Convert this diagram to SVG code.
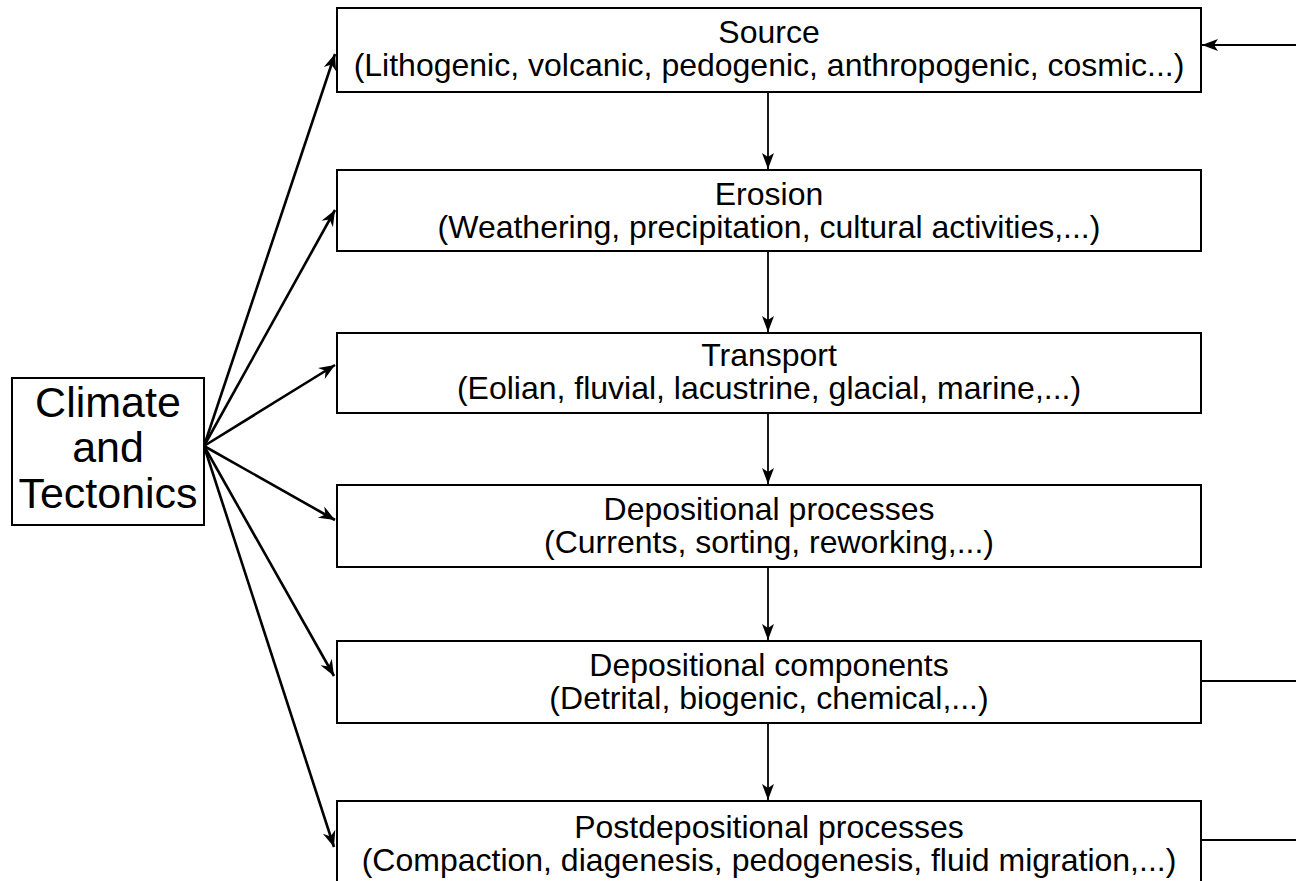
<svg xmlns="http://www.w3.org/2000/svg" width="1296" height="881" viewBox="0 0 1296 881">
<style>
.box{fill:#fff;stroke:#000;stroke-width:2}
.t{font-family:"Liberation Sans",Arial,sans-serif;font-size:32px;text-anchor:middle;fill:#000}
.ct{font-family:"Liberation Sans",Arial,sans-serif;font-size:43px;text-anchor:middle;fill:#000}
.fan{stroke:#000;stroke-width:2.6;fill:none;marker-end:url(#ah)}
.v{stroke:#000;stroke-width:1.8;fill:none;marker-end:url(#ah2)}
.r{stroke:#000;stroke-width:1.8;fill:none}
</style>
<defs>
<marker id="ah" markerUnits="userSpaceOnUse" markerWidth="20" markerHeight="16" viewBox="-18 -8 20 16" refX="0" refY="0" orient="auto">
<path d="M0,0 L-16,-6.5 L-11,0 L-16,6.5 Z" fill="#000"/>
</marker>
<marker id="ah2" markerUnits="userSpaceOnUse" markerWidth="20" markerHeight="16" viewBox="-18 -8 20 16" refX="0" refY="0" orient="auto">
<path d="M0,0 L-16,-6 L-12,0 L-16,6 Z" fill="#000"/>
</marker>
</defs>
<g id="connectors">
<line class="fan" x1="204" y1="446" x2="335" y2="54"/>
<line class="fan" x1="204" y1="446" x2="335" y2="210"/>
<line class="fan" x1="204" y1="446" x2="335" y2="365"/>
<line class="fan" x1="204" y1="446" x2="335" y2="520"/>
<line class="fan" x1="204" y1="446" x2="334" y2="676"/>
<line class="fan" x1="204" y1="446" x2="334" y2="847"/>
<line class="v" x1="768" y1="92" x2="768" y2="169"/>
<line class="v" x1="768" y1="251" x2="768" y2="332"/>
<line class="v" x1="768" y1="413" x2="768" y2="484"/>
<line class="v" x1="768" y1="567" x2="768" y2="640"/>
<line class="v" x1="768" y1="723" x2="768" y2="800"/>
<line class="v" x1="1296" y1="45" x2="1202" y2="45"/>
<line class="r" x1="1202" y1="681" x2="1296" y2="681"/>
<line class="r" x1="1202" y1="840" x2="1296" y2="840"/>
</g>
<g id="climate">
<rect class="box" x="12" y="378" width="192" height="147"/>
<text class="ct" x="108" y="417">Climate</text>
<text class="ct" x="108" y="462">and</text>
<text class="ct" x="108" y="508">Tectonics</text>
</g>
<g id="source">
<rect class="box" x="337" y="8" width="864" height="84"/>
<text class="t" x="769" y="43">Source</text>
<text class="t" x="769" y="76">(Lithogenic, volcanic, pedogenic, anthropogenic, cosmic...)</text>
</g>
<g id="erosion">
<rect class="box" x="337" y="170" width="864" height="81"/>
<text class="t" x="769" y="205">Erosion</text>
<text class="t" x="769" y="238">(Weathering, precipitation, cultural activities,...)</text>
</g>
<g id="transport">
<rect class="box" x="337" y="333" width="864" height="80"/>
<text class="t" x="769" y="366">Transport</text>
<text class="t" x="769" y="399">(Eolian, fluvial, lacustrine, glacial, marine,...)</text>
</g>
<g id="depproc">
<rect class="box" x="337" y="485" width="864" height="82"/>
<text class="t" x="769" y="520">Depositional processes</text>
<text class="t" x="769" y="553">(Currents, sorting, reworking,...)</text>
</g>
<g id="depcomp">
<rect class="box" x="337" y="641" width="864" height="82"/>
<text class="t" x="769" y="676">Depositional components</text>
<text class="t" x="769" y="709">(Detrital, biogenic, chemical,...)</text>
</g>
<g id="postdep">
<rect class="box" x="337" y="801" width="864" height="90"/>
<text class="t" x="769" y="838">Postdepositional processes</text>
<text class="t" x="769" y="871">(Compaction, diagenesis, pedogenesis, fluid migration,...)</text>
</g>
</svg>
